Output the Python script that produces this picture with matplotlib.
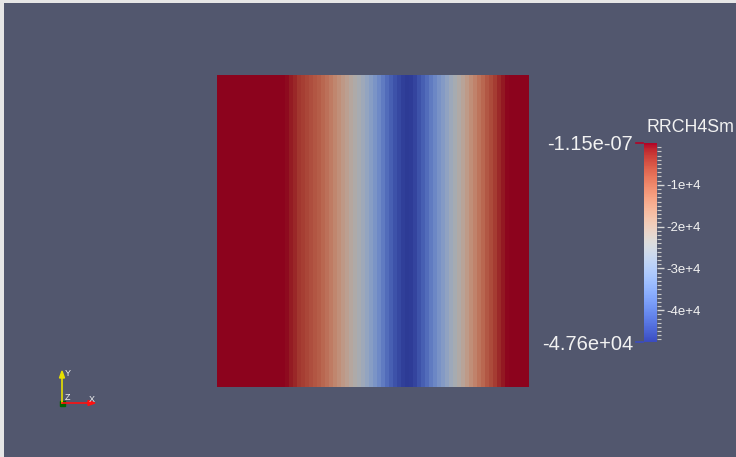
import numpy as np
import matplotlib
matplotlib.use('Agg')
import matplotlib.pyplot as plt
from matplotlib.colors import Normalize
from matplotlib.cm import ScalarMappable

plt.rcParams['font.family'] = ['Liberation Sans', 'DejaVu Sans']

# field values per column across the slab (left to right), units of 1e4
col_values = [0, 0, 0, 0, 0, 0, 0, 0, 0, 0, 0, 0, 0, 0, 0, 0, 0, -0.05,
              -0.14, -0.24, -0.38, -0.45, -0.55, -0.64, -0.74, -0.83, -0.95, -1.09,
              -1.26, -1.43, -1.59, -1.78, -1.95, -2.14, -2.31, -2.48, -2.69, -2.90,
              -3.12, -3.33, -3.57, -3.81, -4.05, -4.24, -4.43, -4.57, -4.69, -4.76,
              -4.74, -4.62, -4.43, -4.24, -4.05, -3.81, -3.59, -3.38, -3.17, -2.95,
              -2.71, -2.50, -2.28, -2.05, -1.81, -1.57, -1.36, -1.14, -0.95, -0.76,
              -0.60, -0.43, -0.26, -0.12, -0.02, 0, 0, 0, 0, 0]
vmin = -4.76e4
vmax = -1.15e-7
bar_title = 'RRCH4Sm'
major_ticks = [-1e4, -2e4, -3e4, -4e4]
major_labels = ['-1e+4', '-2e+4', '-3e+4', '-4e+4']
end_labels = ['-1.15e-07', '-4.76e+04']

W, H = 736, 457
bg = '#52576e'
fig = plt.figure(figsize=(W / 100, H / 100), dpi=100, facecolor='#e6e6e6')

def px_axes(x0, y0, w, h):
    # axes from pixel box (top-left origin)
    return fig.add_axes([x0 / W, (H - y0 - h) / H, w / W, h / H])

# render view background
back = px_axes(4, 3, 732, 454)
back.set_facecolor(bg)
back.set_xticks([])
back.set_yticks([])
for s in back.spines.values():
    s.set_visible(False)

cmap = plt.get_cmap('coolwarm')
norm = Normalize(vmin=vmin, vmax=vmax)

# slab (lit surface, a bit darker than the colour map)
vals = np.array(col_values)[None, :] * 1e4
rgb = cmap(norm(vals))[..., :3] * 0.78
slab = px_axes(217, 75, 312, 312)
slab.imshow(rgb, aspect='auto', interpolation='nearest')
slab.set_axis_off()

# colour bar
cax = px_axes(644, 143, 13, 199)
cb = fig.colorbar(ScalarMappable(norm=norm, cmap=cmap), cax=cax)
cb.outline.set_visible(False)
cb.set_ticks(major_ticks, labels=major_labels)
cb.ax.set_yticks(np.arange(-47000, 0, 1000), minor=True)
cb.ax.tick_params(which='major', length=5, width=1, color='#d8d8d8',
                  labelcolor='#f2f2f2', labelsize=9.5, pad=1.5)
cb.ax.tick_params(which='minor', length=3, width=0.8, color='#c8c8c8')
cax.text(-0.85, 1.0 - 2 / 199, end_labels[0], transform=cax.transAxes, ha='right',
         va='center', color='#f2f2f2', fontsize=14.5)
cax.text(-0.85, -2 / 199, end_labels[1], transform=cax.transAxes, ha='right',
         va='center', color='#f2f2f2', fontsize=14.5)

# overlay for title, end markers and orientation triad
ov = px_axes(0, 0, W, H)
ov.set_xlim(0, W)
ov.set_ylim(H, 0)
ov.set_axis_off()
ov.text(646, 127, bar_title, ha='left', va='center', color='#f2f2f2', fontsize=12.8)
ov.plot([636, 643], [143, 143], color='#b40426', lw=1.2)
ov.plot([636, 643], [342, 342], color='#3b4cc0', lw=1.2)

ox, oy = 62, 403
ov.plot([ox, ox], [oy, 376], color='#e8e000', lw=1.2)
ov.fill([ox - 2.5, ox, ox + 2.5], [378, 371, 378], color='#e8e000')
ov.plot([ox, 89], [oy, oy], color='#ff1010', lw=1.2)
ov.fill([88, 95, 88], [oy - 2.5, oy, oy + 2.5], color='#ff1010')
ov.fill([ox - 2.5, ox + 2.5, ox + 2.5, ox - 2.5],
        [oy - 2.5, oy - 2.5, oy + 2.5, oy + 2.5], color='#006400')
ov.text(65, 374, 'Y', color='#f2f2f2', fontsize=6.5, ha='left', va='center')
ov.text(65, 398, 'Z', color='#f2f2f2', fontsize=6.5, ha='left', va='center')
ov.text(89, 399, 'X', color='#f2f2f2', fontsize=6.5, ha='left', va='center')

fig.savefig('out.png', dpi=100, facecolor=fig.get_facecolor())
